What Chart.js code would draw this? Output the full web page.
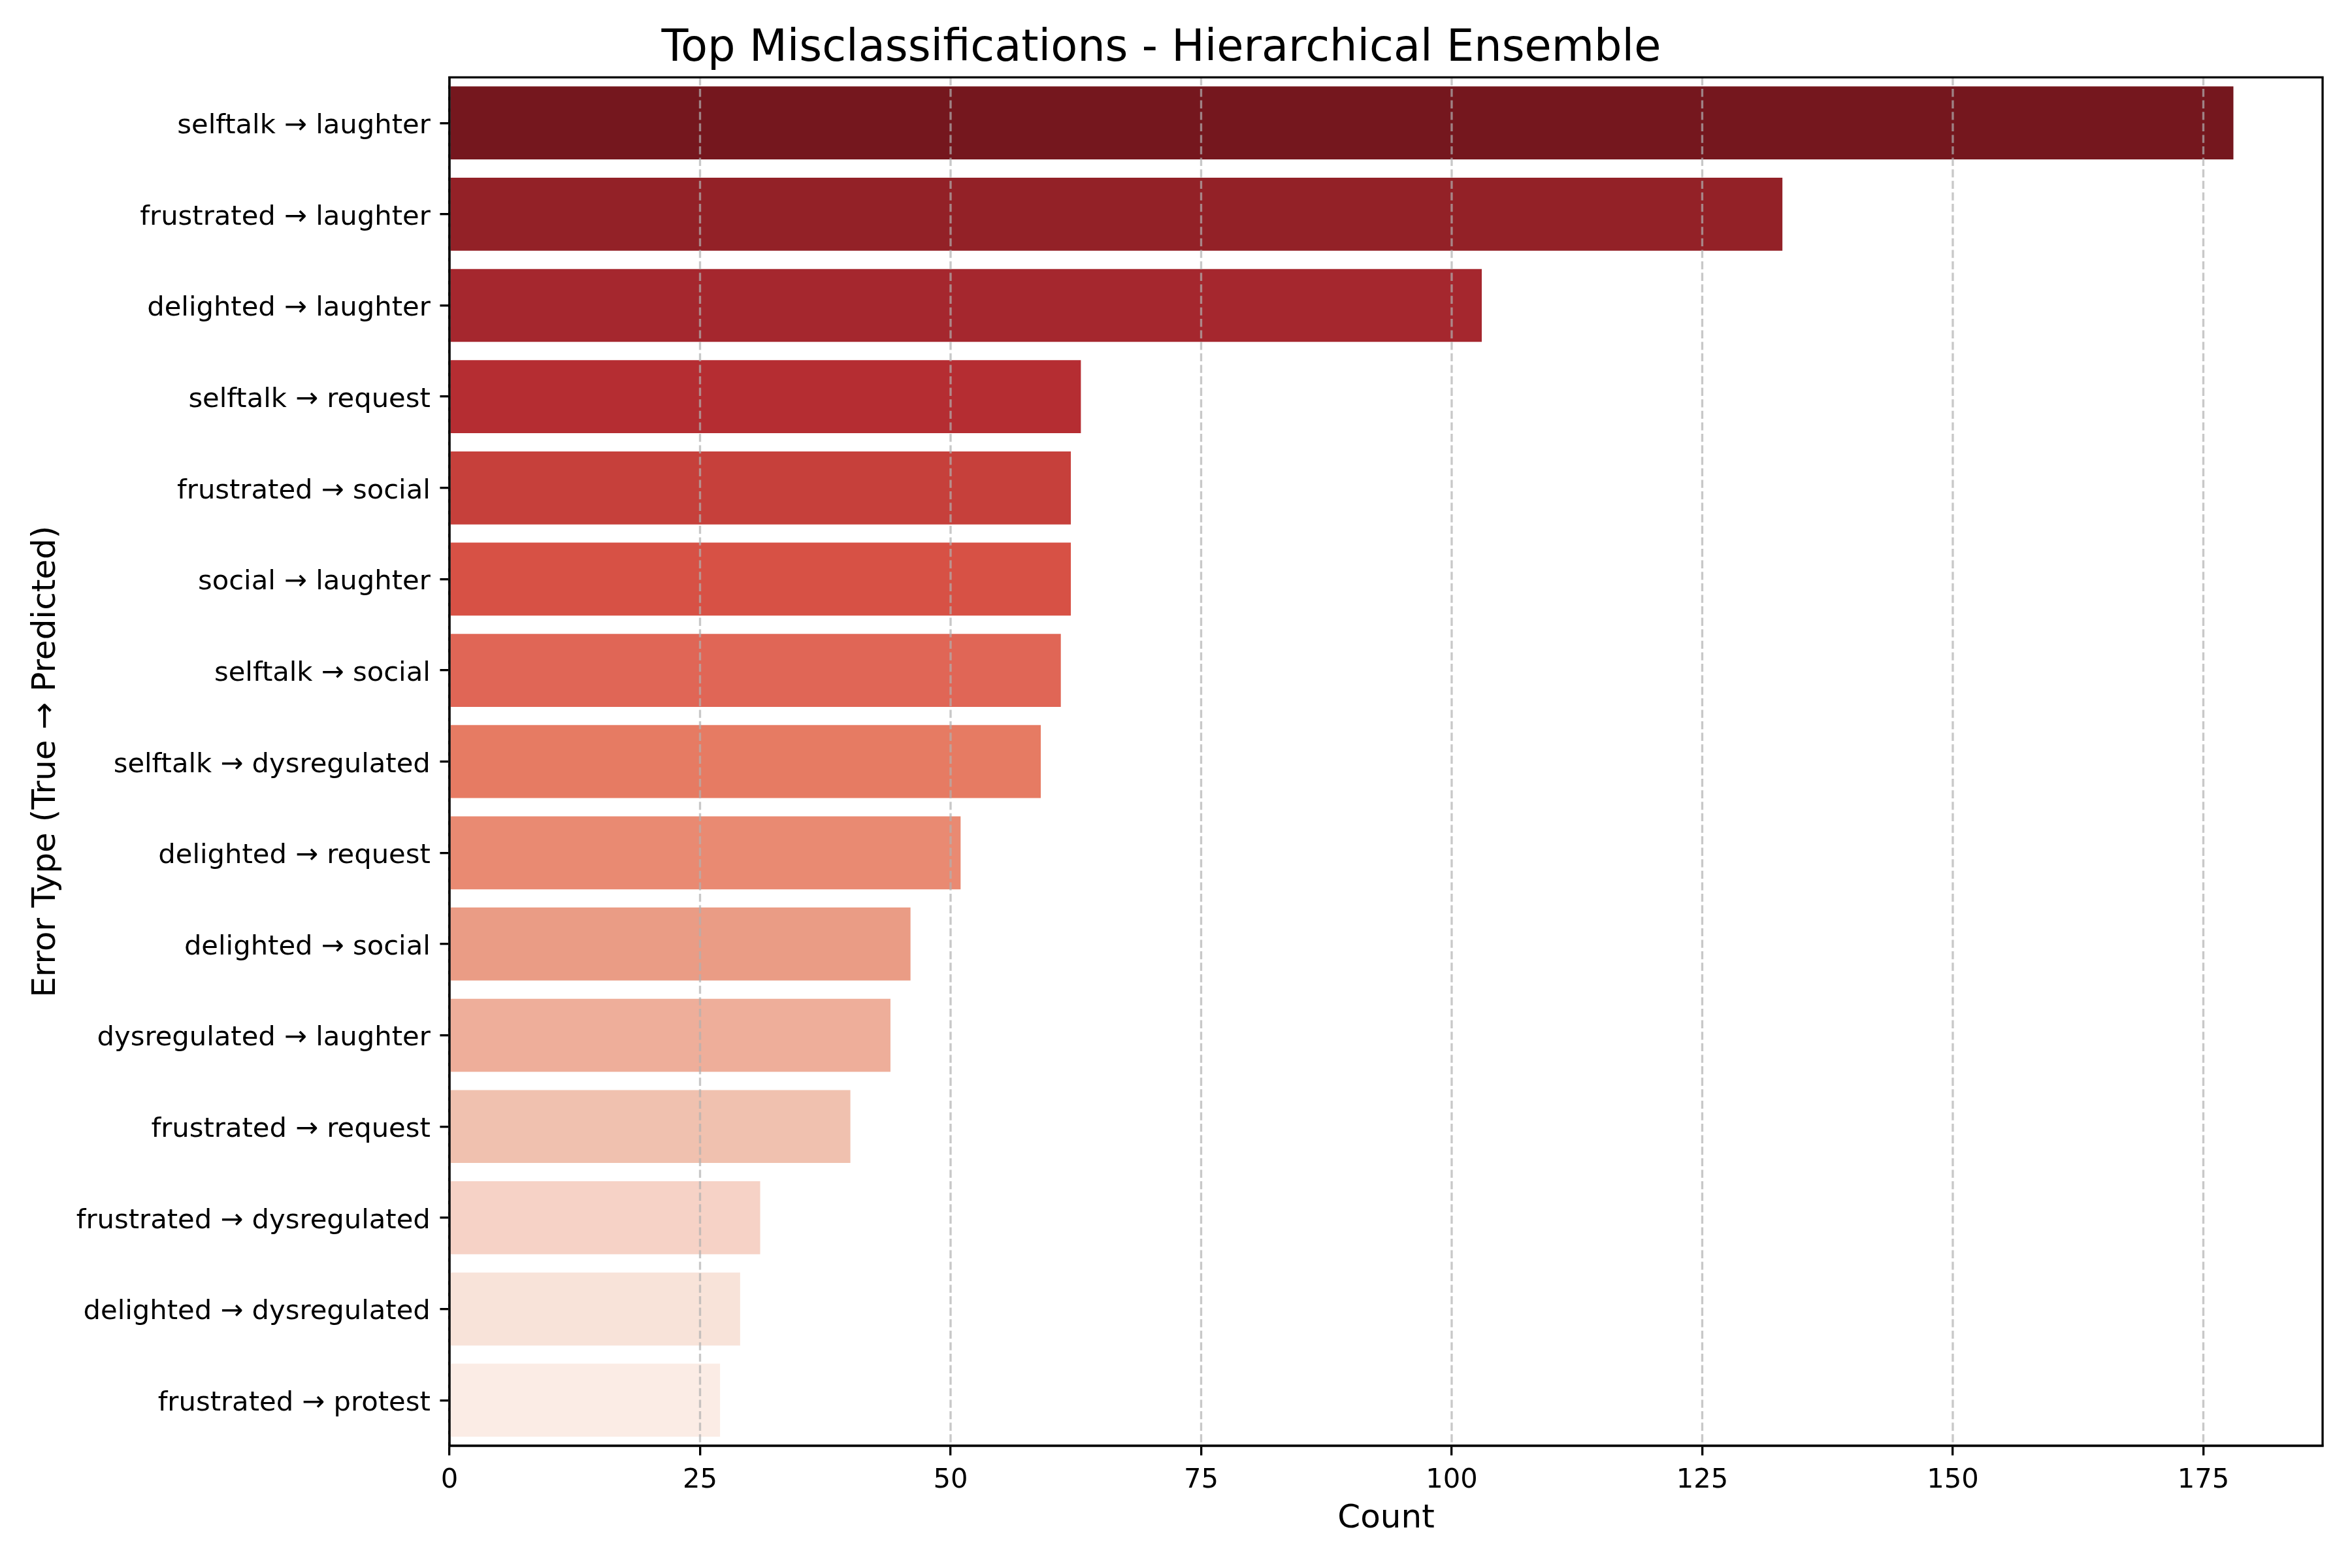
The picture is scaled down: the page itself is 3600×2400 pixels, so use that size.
<!DOCTYPE html>
<html><head><meta charset="utf-8">
<script src="https://cdn.jsdelivr.net/npm/chart.js@4.4.1/dist/chart.umd.min.js"></script>
<style>html,body{margin:0;padding:0;background:#fff;} canvas{display:block;}</style>
</head><body>
<canvas id="c" width="3600" height="2400" style="width:3600px;height:2400px"></canvas>
<script>
const categories = [
  "selftalk → laughter", "frustrated → laughter", "delighted → laughter",
  "selftalk → request", "frustrated → social", "social → laughter",
  "selftalk → social", "selftalk → dysregulated", "delighted → request",
  "delighted → social", "dysregulated → laughter", "frustrated → request",
  "frustrated → dysregulated", "delighted → dysregulated", "frustrated → protest"
];
const counts = [178, 133, 103, 63, 62, 62, 61, 59, 51, 46, 44, 40, 31, 29, 27];
const barColors = [
  "#75171e", "#932127", "#a5272e", "#b52d32", "#c6403b", "#d75145", "#e06656",
  "#e67b63", "#e98a72", "#ea9c85", "#eeae9a", "#f0c1af", "#f6d2c6", "#f8e3d9", "#fbece5"
];
const xTickStep = 25;
const xMax = 186.9;
const chartTitle = "Top Misclassifications - Hierarchical Ensemble";
const xTitle = "Count";
const yTitle = "Error Type (True → Predicted)";

const FONT = "'DejaVu Sans', sans-serif";
const LW = 3.33;

const framePlugin = {
  id: 'frame',
  afterDatasetsDraw(chart) {
    const {ctx, chartArea: a, scales: {x}} = chart;
    ctx.save();
    ctx.strokeStyle = 'rgba(176,176,176,0.7)';
    ctx.lineWidth = LW;
    ctx.setLineDash([12.3, 5.3]);
    x.ticks.forEach(t => {
      const px = x.getPixelForValue(t.value);
      ctx.beginPath(); ctx.moveTo(px, a.top); ctx.lineTo(px, a.bottom); ctx.stroke();
    });
    ctx.setLineDash([]);
    ctx.strokeStyle = '#000';
    ctx.lineWidth = LW;
    ctx.strokeRect(a.left, a.top, a.right - a.left, a.bottom - a.top);
    ctx.restore();
  }
};

new Chart(document.getElementById('c'), {
  type: 'bar',
  data: {
    labels: categories,
    datasets: [{
      data: counts,
      backgroundColor: barColors,
      borderWidth: 0,
      barPercentage: 0.8,
      categoryPercentage: 1.0
    }]
  },
  options: {
    indexAxis: 'y',
    responsive: false,
    devicePixelRatio: 1,
    animation: false,
    layout: {padding: {left: 0, right: 45, top: 0, bottom: 0}},
    plugins: {
      legend: {display: false},
      tooltip: {enabled: false},
      title: {
        display: true,
        text: chartTitle,
        color: '#000',
        font: {family: FONT, size: 67, weight: 'normal'},
        padding: {top: 35, bottom: 3}
      }
    },
    scales: {
      x: {
        type: 'linear',
        min: 0,
        max: xMax,
        afterFit: s => { s.height = 187; },
        ticks: {
          stepSize: xTickStep,
          includeBounds: false,
          color: '#000',
          font: {family: FONT, size: 41.7},
          padding: 14,
          maxRotation: 0
        },
        grid: {
          display: true,
          drawOnChartArea: false,
          drawTicks: true,
          tickLength: 14.6,
          tickColor: '#000',
          tickWidth: LW,
          color: '#000',
          lineWidth: LW
        },
        border: {display: true, color: '#000', width: LW},
        title: {
          display: true,
          text: xTitle,
          color: '#000',
          font: {family: FONT, size: 50},
          padding: {top: 0, bottom: 45}
        }
      },
      y: {
        type: 'category',
        afterFit: s => { s.width = 688; },
        ticks: {
          color: '#000',
          font: {family: FONT, size: 41.7},
          padding: 14.6,
          labelOffset: 5
        },
        grid: {
          display: true,
          offset: false,
          drawOnChartArea: false,
          drawTicks: true,
          tickLength: 14.6,
          tickColor: '#000',
          tickWidth: LW,
          color: '#000',
          lineWidth: LW
        },
        border: {display: true, color: '#000', width: LW},
        title: {
          display: true,
          text: yTitle,
          color: '#000',
          font: {family: FONT, size: 50},
          padding: {top: 41, bottom: 0}
        }
      }
    }
  },
  plugins: [framePlugin]
});
</script>
</body></html>
